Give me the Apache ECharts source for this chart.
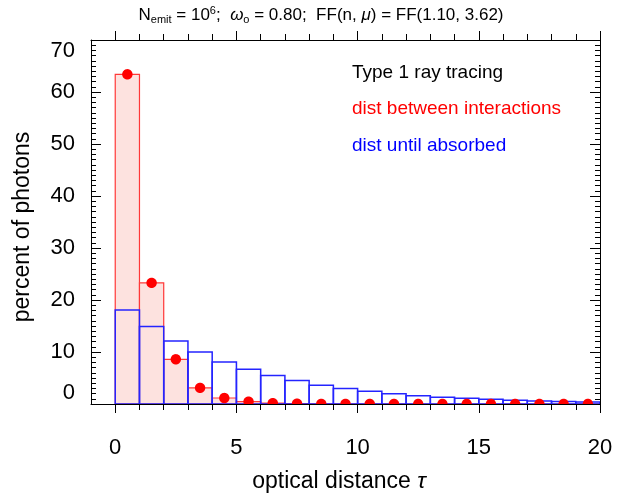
<!DOCTYPE html>
<html>
<head>
<meta charset="utf-8">
<script src="https://cdn.jsdelivr.net/npm/echarts@6/dist/echarts.min.js"></script>
<style>html,body{margin:0;padding:0;background:#fff;}#c{width:617px;height:497px;}</style>
</head>
<body>
<div id="c"></div>
<script>
// ---- data ----
const binLo = [0,1,2,3,4,5,6,7,8,9,10,11,12,13,14,15,16,17,18,19];
const binHi = [1,2,3,4,5,6,7,8,9,10,11,12,13,14,15,16,17,18,19,20];
const distBetweenInteractions = [63.4,23.3,8.6,3.1,1.15,0.45,0.17,0.07,0.03,0.015,0.01,0.005,0,0,0,0,0,0,0,0];
const distUntilAbsorbed = [18.1,14.9,12.1,10.0,8.1,6.7,5.5,4.5,3.6,3.0,2.45,1.95,1.6,1.32,1.1,0.9,0.72,0.58,0.46,0.38];
const xMinorTicks = [0,1,2,3,4,5,6,7,8,9,10,11,12,13,14,15,16,17,18,19,20];
const xMajorTicks = [0,5,10,15,20];
const xTickLabels = [0,5,10,15,20];
const legendLines = ['Type 1 ray tracing','dist between interactions','dist until absorbed'];

const FONT = '"Liberation Sans", Arial, Helvetica, sans-serif';
const chart = echarts.init(document.getElementById('c'));

const redData = binLo.map((lo,i)=>[lo, binHi[i], distBetweenInteractions[i]]);
const blueData = binLo.map((lo,i)=>[lo, binHi[i], distUntilAbsorbed[i]]);
const dotData = binLo.map((lo,i)=>[(lo+binHi[i])/2, distBetweenInteractions[i]]);

function barRender(fill, stroke, lw){
  return function(params, api){
    const p0 = api.coord([api.value(0), 0]);
    const p1 = api.coord([api.value(1), api.value(2)]);
    return {type:'rect', shape:{x:p0[0], y:p1[1], width:p1[0]-p0[0], height:p0[1]-p1[1]},
      style:{fill:fill, stroke:stroke, lineWidth:lw}};
  };
}

function xAxisDef(pos, ticks, len, showLine, labels){
  return {type:'value', min:-1, max:20, position:pos,
    axisLine:{show:showLine, onZero:false, lineStyle:{color:'#000', width:1}},
    axisTick:{show:true, customValues:ticks, length:len, lineStyle:{color:'#000', width:1}},
    axisLabel: labels ? {show:true, customValues:xTickLabels, fontSize:22, color:'#000', fontFamily:FONT, margin:33} : {show:false},
    splitLine:{show:false}};
}
function yAxisDef(pos, labels){
  return {type:'value', min:0, max:70, interval:10, position:pos,
    axisLine:{show:true, onZero:false, lineStyle:{color:'#000', width:1}},
    axisTick:{show:true, inside:true, length:10, lineStyle:{color:'#000', width:1}},
    minorTick:{show:true, splitNumber:10, length:5, lineStyle:{color:'#000', width:1}},
    axisLabel: labels ? {show:true, fontSize:22, color:'#000', fontFamily:FONT, margin:16,
      verticalAlignMinLabel:'bottom', verticalAlignMaxLabel:'top'} : {show:false},
    splitLine:{show:false}};
}

const option = {
  animation:false,
  backgroundColor:'#fff',
  grid:{left:91, right:17, top:40, bottom:93, containLabel:false},
  xAxis:[
    xAxisDef('bottom', xMinorTicks, 6, true, true),
    xAxisDef('bottom', xMajorTicks, 9, false, false),
    xAxisDef('top', xMinorTicks, 6, true, false),
    xAxisDef('top', xMajorTicks, 9, false, false)
  ],
  yAxis:[ yAxisDef('left', true), yAxisDef('right', false) ],
  graphic:[
    {type:'text', x:321, y:15, style:{
      text:'N{sub|emit} = 10{sup|6};  {it|ω}{sub|o} = 0.80;  FF(n, {it|μ}) = FF(1.10, 3.62)',
      font:'17px '+FONT, fill:'#000', align:'center', verticalAlign:'middle',
      rich:{
        sub:{fontSize:11, fontFamily:FONT, padding:[9,0,0,0]},
        sup:{fontSize:11, fontFamily:FONT, padding:[0,0,9,0]},
        it:{fontSize:17, fontFamily:FONT, fontStyle:'italic'}
      }}},
    {type:'text', x:339, y:482, style:{text:'optical distance {it|τ}', font:'23px '+FONT, fill:'#000', align:'center', verticalAlign:'middle',
      rich:{it:{fontSize:23, fontFamily:FONT, fontStyle:'italic'}}}},
    {type:'text', x:23, y:227, rotation:Math.PI/2, style:{text:'percent of photons', font:'23px '+FONT, fill:'#000', align:'center', verticalAlign:'middle'}},
    {type:'text', x:352, y:73, style:{text:legendLines[0], font:'19px '+FONT, fill:'#000', align:'left', verticalAlign:'middle'}},
    {type:'text', x:352, y:109, style:{text:legendLines[1], font:'19px '+FONT, fill:'#ff0000', align:'left', verticalAlign:'middle'}},
    {type:'text', x:352, y:146, style:{text:legendLines[2], font:'19px '+FONT, fill:'#0000ff', align:'left', verticalAlign:'middle'}}
  ],
  series:[
    {type:'custom', name:'dist between interactions', data:redData, encode:{x:[0,1], y:2},
      renderItem: barRender('#fde2df', '#ff3838', 1.2), clip:true, z:2},
    {type:'custom', name:'dist until absorbed', data:blueData, encode:{x:[0,1], y:2},
      renderItem: barRender('none', '#2424ff', 1.5), clip:true, z:3},
    {type:'custom', name:'dots', data:dotData, encode:{x:0, y:1}, clip:true, z:4,
      renderItem: function(params, api){
        const p = api.coord([api.value(0), api.value(1)]);
        const yb = api.coord([0, 0])[1];
        const r = 5.2, pts = [];
        for (let k = 0; k < 40; k++) {
          const a = 2*Math.PI*k/40;
          pts.push([p[0] + r*Math.cos(a), Math.min(p[1] + r*Math.sin(a), yb)]);
        }
        return {type:'polygon', shape:{points:pts}, style:{fill:'#ff0000'}};
      }}
  ]
};
chart.setOption(option);
</script>
</body>
</html>
